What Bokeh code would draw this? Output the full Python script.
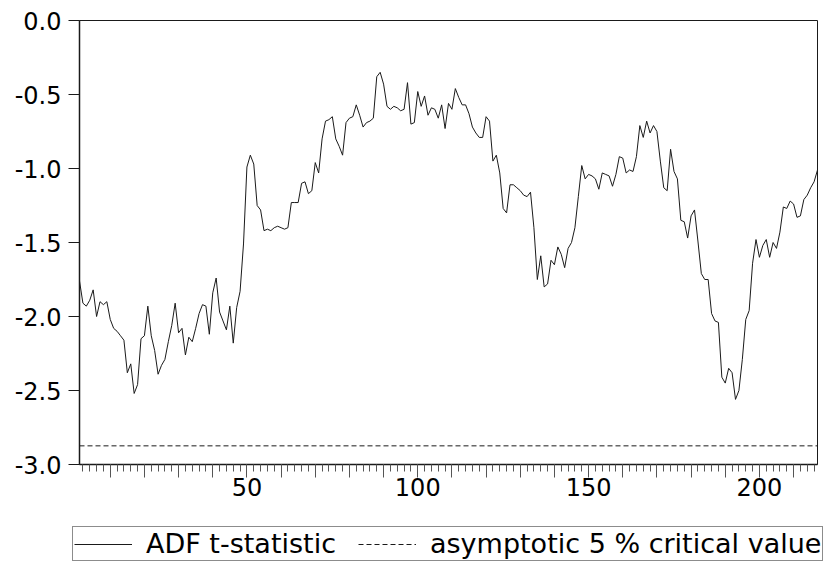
from bokeh.plotting import figure
from bokeh.models import Range1d, FixedTicker, NumeralTickFormatter, Legend, LegendItem
from bokeh.layouts import column, row
from bokeh.embed import file_html
from bokeh.resources import INLINE

# ---- data ----
obs = list(range(1, 218))
adf_t = [
    -1.76, -1.91, -1.93, -1.89, -1.82, -2.00, -1.90, -1.92, -1.90, -2.02,
    -2.08, -2.10, -2.13, -2.16, -2.38, -2.32, -2.52, -2.46, -2.15, -2.13,
    -1.93, -2.13, -2.23, -2.39, -2.33, -2.29, -2.17, -2.06, -1.91, -2.11,
    -2.08, -2.26, -2.14, -2.17, -2.08, -1.98, -1.92, -1.93, -2.12, -1.84,
    -1.74, -1.97, -2.03, -2.09, -1.93, -2.18, -1.94, -1.83, -1.51, -0.99,
    -0.91, -0.97, -1.25, -1.28, -1.42, -1.41, -1.42, -1.40, -1.39, -1.40,
    -1.41, -1.40, -1.23, -1.23, -1.23, -1.10, -1.09, -1.17, -1.15, -0.96,
    -1.03, -0.80, -0.68, -0.67, -0.65, -0.80, -0.85, -0.91, -0.69, -0.66,
    -0.65, -0.57, -0.64, -0.72, -0.69, -0.68, -0.66, -0.38, -0.35, -0.43,
    -0.58, -0.60, -0.58, -0.59, -0.61, -0.60, -0.42, -0.70, -0.69, -0.48,
    -0.58, -0.51, -0.64, -0.59, -0.60, -0.66, -0.57, -0.73, -0.56, -0.60,
    -0.46, -0.52, -0.57, -0.57, -0.63, -0.72, -0.76, -0.79, -0.79, -0.65,
    -0.68, -0.95, -0.91, -1.03, -1.27, -1.30, -1.11, -1.11, -1.13, -1.15,
    -1.18, -1.19, -1.16, -1.40, -1.75, -1.59, -1.80, -1.78, -1.62, -1.65,
    -1.53, -1.58, -1.67, -1.54, -1.50, -1.40, -1.19, -0.98, -1.07, -1.04,
    -1.05, -1.07, -1.14, -1.03, -1.04, -1.05, -1.12, -1.04, -0.92, -0.93,
    -1.03, -1.01, -1.02, -0.92, -0.71, -0.79, -0.68, -0.76, -0.71, -0.75,
    -0.95, -1.13, -1.15, -0.87, -1.02, -1.07, -1.35, -1.36, -1.47, -1.32,
    -1.28, -1.49, -1.71, -1.75, -1.75, -1.98, -2.03, -2.04, -2.41, -2.45,
    -2.35, -2.38, -2.56, -2.50, -2.29, -2.02, -1.96, -1.64, -1.48, -1.60,
    -1.52, -1.48, -1.60, -1.50, -1.54, -1.43, -1.26, -1.27, -1.22, -1.24,
    -1.33, -1.32, -1.21, -1.18, -1.13, -1.09, -1.01,
]
critical_value = -2.874

y_ticks = [-3.0, -2.5, -2.0, -1.5, -1.0, -0.5, 0.0]
x_major_ticks = list(range(10, 220, 10))
x_minor_ticks = list(range(2, 218, 2))
x_tick_labels = {50: "50", 100: "100", 150: "150", 200: "200"}

series_names = ["ADF t-statistic", "asymptotic 5 % critical value"]

FONT = "DejaVu Sans"
INK = "#1a1a1a"

# ---------------- main chart ----------------
p = figure(width=823, height=509, output_backend="svg", toolbar_location=None,
           x_range=Range1d(obs[0], obs[-1]), y_range=Range1d(y_ticks[0], y_ticks[-1]),
           min_border_left=79, min_border_right=6, min_border_top=20, min_border_bottom=45)
p.xgrid.visible = False
p.ygrid.visible = False
p.outline_line_color = INK
p.outline_line_width = 1
p.background_fill_color = "white"
p.border_fill_color = "white"

p.line(obs, adf_t, line_color=INK, line_width=1)
p.line([obs[0], obs[-1]], [critical_value, critical_value],
       line_color=INK, line_width=1, line_dash="5 3")

ya = p.yaxis[0]
ya.ticker = FixedTicker(ticks=y_ticks)
ya.formatter = NumeralTickFormatter(format="0.0")
ya.major_tick_out = 11
ya.major_tick_in = 0
ya.minor_tick_out = 0
ya.minor_tick_in = 0
ya.major_label_standoff = 7
ya.major_label_text_font = FONT
ya.major_label_text_font_size = "24px"
ya.major_label_text_color = "black"
ya.axis_line_color = INK
ya.axis_line_width = 1.5
ya.major_tick_line_color = INK

xa = p.xaxis[0]
xa.ticker = FixedTicker(ticks=x_major_ticks, minor_ticks=x_minor_ticks)
xa.major_label_overrides = {t: x_tick_labels.get(t, "") for t in x_major_ticks}
xa.major_tick_out = 13
xa.major_tick_in = 0
xa.minor_tick_out = 7
xa.minor_tick_in = 0
xa.major_label_standoff = 0
xa.major_label_text_font = FONT
xa.major_label_text_font_size = "24px"
xa.major_label_text_color = "black"
xa.axis_line_color = INK
xa.axis_line_width = 1.5
xa.major_tick_line_color = "#555555"
xa.minor_tick_line_color = "#555555"

# ---------------- legend strip ----------------
q = figure(width=823, height=56, output_backend="svg", toolbar_location=None,
           x_range=Range1d(1000, 1001), y_range=Range1d(1000, 1001),
           x_axis_location=None, y_axis_location=None,
           min_border_left=0, min_border_right=0, min_border_top=0, min_border_bottom=0)
q.xgrid.visible = False
q.ygrid.visible = False
q.outline_line_color = None
q.background_fill_color = "white"
q.border_fill_color = "white"
l_adf = q.line(obs, adf_t, line_color=INK, line_width=1)
l_cv = q.line([obs[0], obs[-1]], [critical_value, critical_value],
              line_color=INK, line_width=1, line_dash="5 3")

legend = Legend(items=[LegendItem(label=series_names[0], renderers=[l_adf]),
                       LegendItem(label=series_names[1], renderers=[l_cv])],
                orientation="horizontal", location=(72, 4),
                padding=1, margin=0, spacing=22, glyph_width=58, label_standoff=14,
                label_text_font=FONT, label_text_font_size="27px", label_text_color="black",
                border_line_color=INK, border_line_width=1,
                background_fill_color="white", background_fill_alpha=1)
q.add_layout(legend, "center")

layout = column(p, row(q, spacing=0), spacing=0)
open("out.html", "w").write(file_html(layout, INLINE))
